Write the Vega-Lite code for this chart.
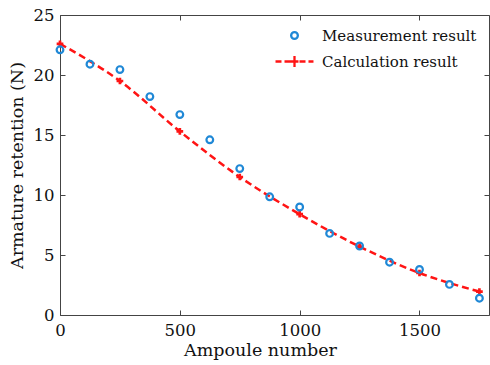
{
  "$schema": "https://vega.github.io/schema/vega-lite/v6.json",
  "width": 429,
  "height": 300,
  "autosize": "none",
  "padding": {"left": 60, "top": 15, "right": 1, "bottom": 50},
  "background": "white",
  "config": {
    "font": "DejaVu Serif",
    "view": {"stroke": "#444", "strokeWidth": 1},
    "axis": {
      "grid": false,
      "domain": false,
      "tickColor": "#444",
      "tickSize": -5,
      "tickWidth": 1,
      "labelFlush": false,
      "labelFont": "DejaVu Serif",
      "labelFontSize": 16.5,
      "labelColor": "#111",
      "titleFont": "DejaVu Serif",
      "titleFontSize": 17.5,
      "titleFontWeight": "normal",
      "titleColor": "#111"
    },
    "legend": {
      "orient": "none",
      "legendX": 227,
      "legendY": 13,
      "title": null,
      "labelFont": "DejaVu Serif",
      "labelFontSize": 15,
      "labelColor": "#111",
      "labelLimit": 400,
      "symbolSize": 45,
      "labelOffset": 20,
      "rowPadding": 7,
      "symbolStrokeWidth": 2.3,
      "symbolFillColor": "transparent"
    }
  },
  "datasets": {
    "meas": [
      {"ampoule": 0, "force": 22.1, "series": "Measurement result"},
      {"ampoule": 125, "force": 20.9, "series": "Measurement result"},
      {"ampoule": 250, "force": 20.45, "series": "Measurement result"},
      {"ampoule": 375, "force": 18.2, "series": "Measurement result"},
      {"ampoule": 500, "force": 16.7, "series": "Measurement result"},
      {"ampoule": 625, "force": 14.6, "series": "Measurement result"},
      {"ampoule": 750, "force": 12.2, "series": "Measurement result"},
      {"ampoule": 875, "force": 9.85, "series": "Measurement result"},
      {"ampoule": 1000, "force": 9.0, "series": "Measurement result"},
      {"ampoule": 1125, "force": 6.8, "series": "Measurement result"},
      {"ampoule": 1250, "force": 5.75, "series": "Measurement result"},
      {"ampoule": 1375, "force": 4.4, "series": "Measurement result"},
      {"ampoule": 1500, "force": 3.8, "series": "Measurement result"},
      {"ampoule": 1625, "force": 2.55, "series": "Measurement result"},
      {"ampoule": 1750, "force": 1.4, "series": "Measurement result"}
    ],
    "calc": [
      {"ampoule": 0, "force": 22.6, "series": "Calculation result"},
      {"ampoule": 250, "force": 19.5, "series": "Calculation result"},
      {"ampoule": 500, "force": 15.3, "series": "Calculation result"},
      {"ampoule": 750, "force": 11.5, "series": "Calculation result"},
      {"ampoule": 1000, "force": 8.4, "series": "Calculation result"},
      {"ampoule": 1250, "force": 5.7, "series": "Calculation result"},
      {"ampoule": 1500, "force": 3.5, "series": "Calculation result"},
      {"ampoule": 1750, "force": 1.95, "series": "Calculation result"}
    ]
  },
  "layer": [
    {
      "data": {"name": "calc"},
      "mark": {"type": "line", "interpolate": "monotone", "strokeDash": [7, 4], "strokeWidth": 2.5, "color": "#ff1414"},
      "encoding": {
        "x": {"field": "ampoule", "type": "quantitative", "scale": {"domain": [0, 1790], "nice": false, "zero": false},
              "axis": {"orient": "top", "labels": false, "title": null, "values": [0, 500, 1000, 1500]}},
        "y": {"field": "force", "type": "quantitative", "scale": {"domain": [0, 25], "nice": false},
              "axis": {"orient": "right", "labels": false, "title": null, "values": [0, 5, 10, 15, 20, 25]}}
      }
    },
    {
      "data": {"name": "calc"},
      "mark": {"type": "point", "shape": "cross", "filled": true, "size": 45, "opacity": 1},
      "encoding": {
        "x": {"field": "ampoule", "type": "quantitative", "axis": null},
        "y": {"field": "force", "type": "quantitative", "axis": null},
        "color": {"field": "series", "type": "nominal", "legend": null}
      }
    },
    {
      "data": {"name": "meas"},
      "mark": {"type": "point", "filled": false, "strokeWidth": 2.2, "size": 45, "opacity": 1},
      "encoding": {
        "x": {"field": "ampoule", "type": "quantitative",
              "axis": {"orient": "bottom", "title": "Ampoule number", "titleX": 200, "values": [0, 500, 1000, 1500], "format": "d", "labelPadding": 12, "titlePadding": 3}},
        "y": {"field": "force", "type": "quantitative",
              "axis": {"orient": "left", "title": "Armature retention (N)", "values": [0, 5, 10, 15, 20, 25], "labelPadding": 11, "titlePadding": 7}},
        "color": {
          "field": "series",
          "type": "nominal",
          "title": null,
          "scale": {"domain": ["Measurement result", "Calculation result"], "range": ["#1f88d6", "#ff1414"]}
        },
        "shape": {
          "field": "series",
          "type": "nominal",
          "title": null,
          "scale": {"domain": ["Measurement result", "Calculation result"], "range": ["circle", "M-5.66,0H-3.88M-2.98,0H-1.19M-1.19,0H1.19M0,-1.64V1.64M1.49,0H3.28M4.17,0H5.66"]}
        }
      }
    }
  ],
  "resolve": {"axis": {"x": "independent", "y": "independent"}, "legend": {"color": "independent", "shape": "independent"}}
}
